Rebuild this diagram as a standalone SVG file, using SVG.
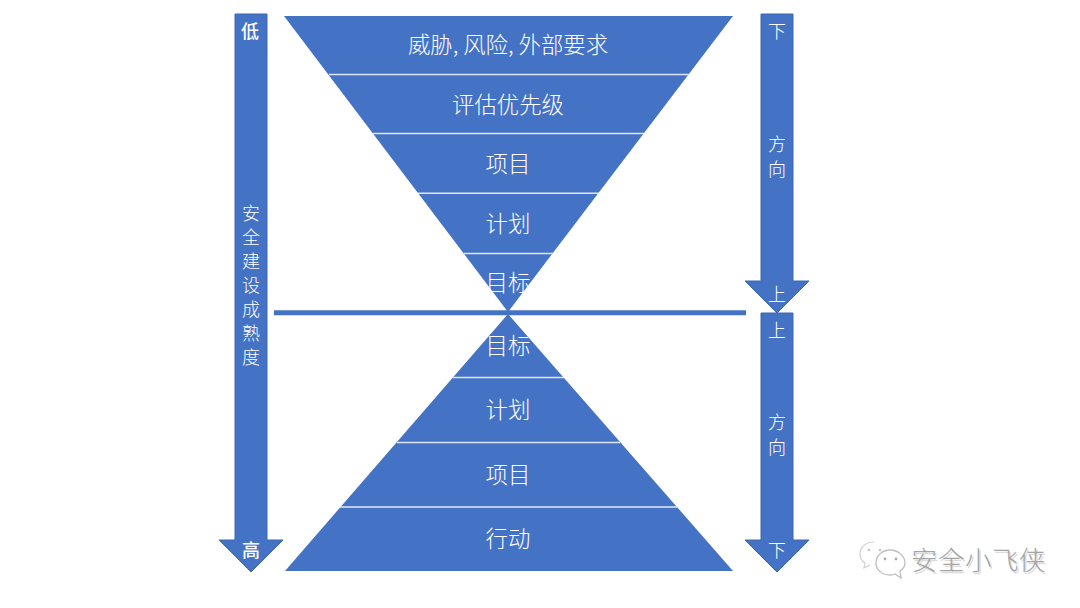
<svg xmlns="http://www.w3.org/2000/svg" width="1080" height="608" viewBox="0 0 1080 608">
<style>
.s{fill:#4472c4}
.o{fill:#4472c4;stroke:#3c66b0;stroke-width:1}
.t{font-family:"Noto Sans CJK SC","Noto Sans",sans-serif;fill:#fff;text-anchor:middle}
.l{font-size:22.4px;font-weight:300}
.a{font-size:18px;font-weight:300}
.b{font-weight:500}
.d{stroke:#dfe6f5;stroke-width:1.6;fill:none}
.w{font-family:"Noto Sans CJK SC",sans-serif;font-size:26.5px;letter-spacing:0.5px;font-weight:300}
</style>
<rect width="1080" height="608" fill="#fff"/>
<g id="connectors"><path d="M274 312.8H746" stroke="#4472c4" stroke-width="5" fill="none"/></g>
<g id="arrow-maturity">
<path class="o" d="M235 14H267V540H283L251 572L219 540H235Z"/>
<text class="t a b" x="250" y="38">低</text>
<text class="t a" x="251" y="220">安</text><text class="t a" x="251" y="244">全</text><text class="t a" x="251" y="268">建</text><text class="t a" x="251" y="292">设</text><text class="t a" x="251" y="316">成</text><text class="t a" x="251" y="340">熟</text><text class="t a" x="251" y="364">度</text>
<text class="t a b" x="251" y="557">高</text>
</g>
<g id="arrow-down">
<path class="o" d="M761 14H793V281H809L777 313L745 281H761Z"/>
<text class="t a" x="777" y="38">下</text>
<text class="t a" x="777" y="151">方</text><text class="t a" x="777" y="176">向</text>
<text class="t a" x="777" y="301">上</text>
</g>
<g id="arrow-up">
<path class="o" d="M761 313H793V540H809L777 572L745 540H761Z"/>
<text class="t a" x="777" y="337">上</text>
<text class="t a" x="777" y="429">方</text><text class="t a" x="777" y="454">向</text>
<text class="t a" x="777" y="557">下</text>
</g>
<g id="funnel-top">
<path class="s" d="M284 16H733L508 312Z"/>
<path class="d" d="M329 74.5H689M373 133.5H644M418 193.3H599M464 253.5H553"/>
<text class="t l" x="508" y="52.500">威胁, 风险, 外部要求</text>
<text class="t l" x="508" y="112.500">评估优先级</text>
<text class="t l" x="508" y="172">项目</text>
<text class="t l" x="508" y="232">计划</text>
<text class="t l" x="508" y="291">目标</text>
</g>
<g id="pyramid-bottom">
<path class="s" d="M508 314L733 571H285Z"/>
<path class="d" d="M453 377.500H564M397 442.500H620M340 507H677"/>
<text class="t l" x="508" y="354">目标</text>
<text class="t l" x="508" y="418">计划</text>
<text class="t l" x="508" y="482.500">项目</text>
<text class="t l" x="508" y="547">行动</text>
</g>
<g id="watermark">
<path d="M874 542c-8 0-14 5-14 12 0 4 2 7 5 9l-1 5 6-3" fill="#fff" stroke="#cfcfcf" stroke-width="1.2"/>
<path d="M890 550c-8 0-14 6-14 13s6 12 14 12c2 0 3 0 5-1l6 4-1-7c3-2 5-5 5-8 0-7-7-13-15-13z" fill="#fff" stroke="#bdbdbd" stroke-width="1.3"/>
<circle cx="869" cy="550" r="1.3" fill="#c4c4c4"/><circle cx="880" cy="550" r="1.3" fill="#c4c4c4"/>
<circle cx="885" cy="559" r="1.400" fill="#aaa"/><circle cx="896" cy="559" r="1.400" fill="#aaa"/>
<text class="w" x="912.500" y="571.500" fill="#dcdcdc">安全小飞侠</text>
<text class="w" x="911" y="570" fill="#8f8f8f" opacity="0.8">安全小飞侠</text>
</g>
</svg>
